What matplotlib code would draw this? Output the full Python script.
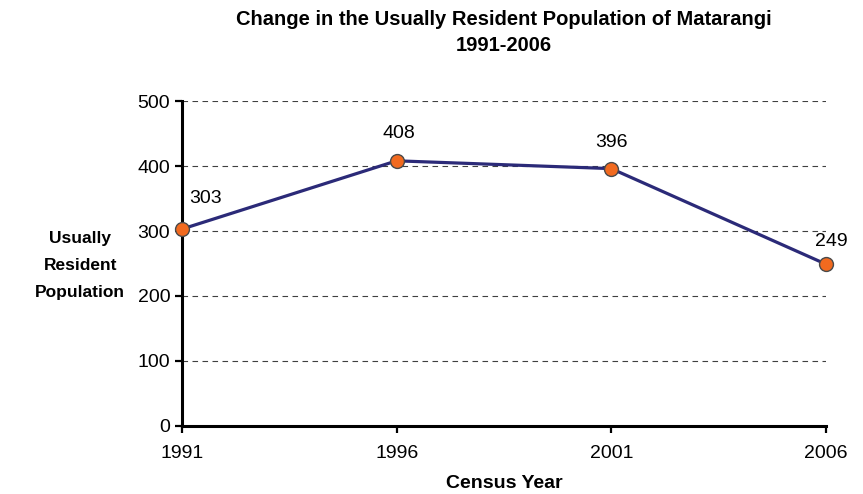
import matplotlib.pyplot as plt

plt.rcParams['font.family'] = ['Liberation Sans', 'DejaVu Sans']

# Census results
years = [1991, 1996, 2001, 2006]
population = [303, 408, 396, 249]
label_offsets = [(17, 22), (1.5, 20), (0.5, 19), (3.6, 16)]

fig = plt.figure(figsize=(8.63, 4.94), dpi=100)
ax = fig.add_axes([0.2109, 0.1377, 0.7461, 0.6578])

ax.plot(years, population, color='#2b2a78', linewidth=2.3, marker='o',
        markersize=10, markerfacecolor='#f26a1f', markeredgecolor='#4a4a4a',
        markeredgewidth=1.0, zorder=3, clip_on=False)

for x, y, (dx, dy) in zip(years, population, label_offsets):
    ax.annotate(str(y), (x, y), xytext=(dx, dy), textcoords='offset points',
                ha='center', va='center', fontsize=14)

ax.set_xlim(1991, 2006)
ax.set_ylim(0, 500)
ax.set_xticks(years)
ax.set_yticks(range(0, 501, 100))
ax.yaxis.grid(True, linestyle=(0, (5, 4)), color='#404040', linewidth=0.8)
ax.set_axisbelow(True)

for side in ['top', 'right']:
    ax.spines[side].set_visible(False)
for side in ['left', 'bottom']:
    ax.spines[side].set_linewidth(2.2)
ax.tick_params(direction='out', length=5, width=1.6, labelsize=14)
ax.tick_params(axis='x', pad=9)

ax.set_title('Change in the Usually Resident Population of Matarangi\n1991-2006',
             fontsize=14.5, fontweight='bold', pad=36, linespacing=1.5)
ax.set_xlabel('Census Year', fontsize=14, fontweight='bold', labelpad=9)
ax.set_ylabel('Usually\nResident\nPopulation', fontsize=12.5, fontweight='bold',
              rotation=0, ha='center', va='center', labelpad=0, linespacing=2.0)
ax.yaxis.set_label_coords(-0.158, 0.495)

fig.savefig('out.png', dpi=100)
